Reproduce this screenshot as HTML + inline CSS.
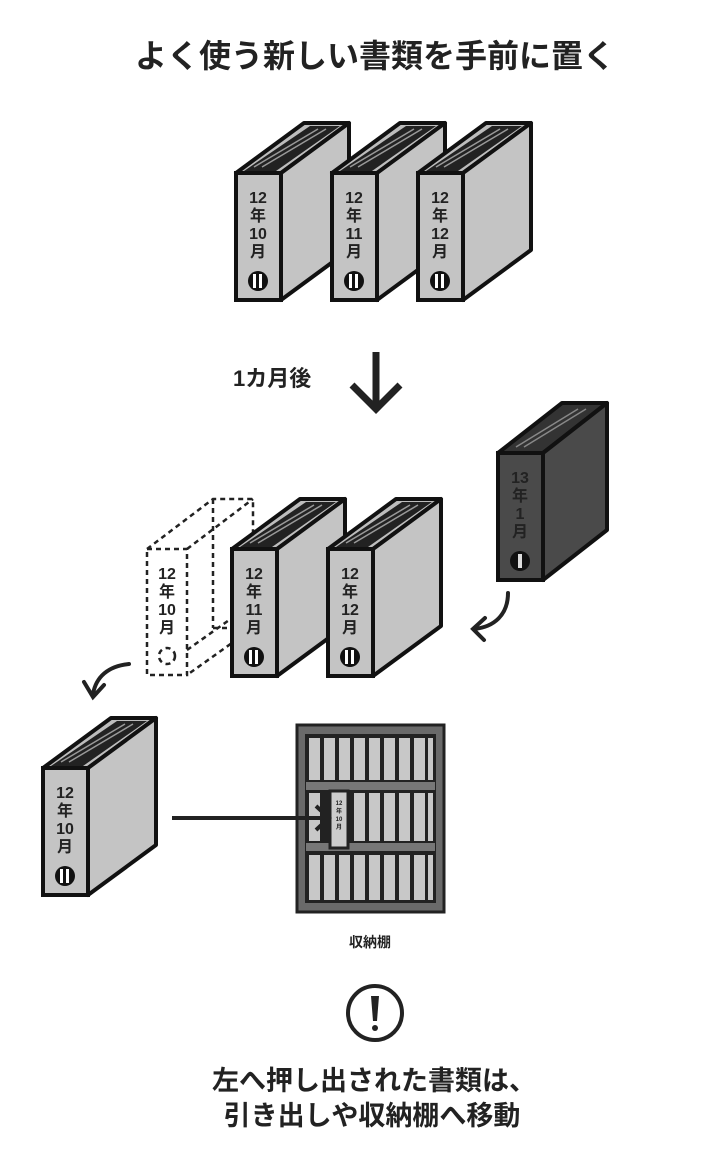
<!DOCTYPE html>
<html><head><meta charset="utf-8"><style>
body{margin:0;background:#fff}
svg{display:block}
text{font-family:"Liberation Sans","Noto Sans CJK JP",sans-serif;font-weight:bold}
</style></head><body>
<svg width="724" height="1162" viewBox="0 0 724 1162" xmlns="http://www.w3.org/2000/svg">
<defs>
<g id="bshape">
<polygon points="0,0 45,0 113,-50 68,-50" fill="#bdbdbd" stroke="#111" stroke-width="4" stroke-linejoin="round"/>
<polygon points="8,-2 40,-2 104,-47 74,-47" fill="#222"/>
<line x1="18" y1="-6" x2="82" y2="-44" stroke="#999" stroke-width="1.5"/>
<line x1="26" y1="-6" x2="90" y2="-44" stroke="#999" stroke-width="1.5"/>
<polygon points="45,0 113,-50 113,77 45,127" fill="#c4c4c4" stroke="#111" stroke-width="4" stroke-linejoin="round"/>
<rect x="0" y="0" width="45" height="127" fill="#c4c4c4" stroke="#111" stroke-width="4"/>
<circle cx="22" cy="108" r="10" fill="#111"/>
<rect x="17" y="101" width="3" height="14" fill="#fff"/>
<rect x="23" y="101" width="3" height="14" fill="#fff"/>
</g>
</defs>

<text x="375" y="67" font-size="32" text-anchor="middle" fill="#222">よく使う新しい書類を手前に置く</text>

<!-- top row -->
<g transform="translate(236,173)"><use href="#bshape"/>
<g font-size="16" text-anchor="middle" fill="#222"><text x="22" y="30">12</text><text x="22" y="48">年</text><text x="22" y="66">10</text><text x="22" y="84">月</text></g></g>
<g transform="translate(332,173)"><use href="#bshape"/>
<g font-size="16" text-anchor="middle" fill="#222"><text x="22" y="30">12</text><text x="22" y="48">年</text><text x="22" y="66">11</text><text x="22" y="84">月</text></g></g>
<g transform="translate(418,173)"><use href="#bshape"/>
<g font-size="16" text-anchor="middle" fill="#222"><text x="22" y="30">12</text><text x="22" y="48">年</text><text x="22" y="66">12</text><text x="22" y="84">月</text></g></g>

<text x="233" y="386" font-size="22" fill="#222">1カ月後</text>
<g stroke="#222" stroke-width="7" fill="none"><line x1="376" y1="352" x2="376" y2="408"/><polyline points="352,385 376,409 400,385"/></g>

<!-- dashed binder -->
<g stroke="#222" stroke-width="2.5" stroke-dasharray="5,4" fill="none">
<rect x="147" y="549" width="40" height="126"/>
<polyline points="147,549 213,499 253,499 253,628 187,675"/>
<line x1="187" y1="549" x2="253" y2="499"/>
<line x1="213" y1="499" x2="213" y2="628"/>
<line x1="213" y1="628" x2="232" y2="628"/>
<line x1="187" y1="650" x2="232" y2="618"/>
<circle cx="167" cy="656" r="8"/>
</g>
<g font-size="16" text-anchor="middle" fill="#222"><text x="167" y="579">12</text><text x="167" y="597">年</text><text x="167" y="615">10</text><text x="167" y="633">月</text></g>

<g transform="translate(232,549)"><use href="#bshape"/>
<g font-size="16" text-anchor="middle" fill="#222"><text x="22" y="30">12</text><text x="22" y="48">年</text><text x="22" y="66">11</text><text x="22" y="84">月</text></g></g>
<g transform="translate(328,549)"><use href="#bshape"/>
<g font-size="16" text-anchor="middle" fill="#222"><text x="22" y="30">12</text><text x="22" y="48">年</text><text x="22" y="66">12</text><text x="22" y="84">月</text></g></g>

<!-- dark binder -->
<g transform="translate(498,453)">
<polygon points="0,0 45,0 109,-50 64,-50" fill="#333" stroke="#111" stroke-width="4" stroke-linejoin="round"/>
<line x1="18" y1="-6" x2="80" y2="-44" stroke="#888" stroke-width="1.5"/>
<line x1="26" y1="-6" x2="88" y2="-44" stroke="#888" stroke-width="1.5"/>
<polygon points="45,0 109,-50 109,77 45,127" fill="#4a4a4a" stroke="#111" stroke-width="4" stroke-linejoin="round"/>
<rect x="0" y="0" width="45" height="127" fill="#4a4a4a" stroke="#111" stroke-width="4"/>
<g font-size="16" text-anchor="middle" fill="#222"><text x="22" y="30">13</text><text x="22" y="48">年</text><text x="22" y="66">1</text><text x="22" y="84">月</text></g>
<circle cx="22" cy="108" r="10" fill="#111"/><rect x="20" y="101" width="4" height="14" fill="#ddd"/>
</g>

<!-- curved arrows -->
<g stroke="#222" stroke-width="4" fill="none" stroke-linecap="round">
<path d="M508,593 C508,615 494,627 474,629"/><polyline points="485,618 473,629 484,640"/>
<path d="M129,664 C108,666 96,677 93,694"/><polyline points="84,682 93,697 104,685"/>
</g>

<!-- bottom binder -->
<g transform="translate(43,768)"><use href="#bshape"/>
<g font-size="16" text-anchor="middle" fill="#222"><text x="22" y="30">12</text><text x="22" y="48">年</text><text x="22" y="66">10</text><text x="22" y="84">月</text></g></g>

<!-- shelf -->
<rect x="297" y="725" width="147" height="187" fill="#6a6a6a" stroke="#222" stroke-width="3"/>
<rect x="305" y="734" width="131" height="169" fill="#222"/>
<g fill="#c8c8c8">
<rect x="309" y="738" width="11" height="42"/><rect x="324" y="738" width="11" height="42"/><rect x="339" y="738" width="11" height="42"/><rect x="354" y="738" width="11" height="42"/><rect x="369" y="738" width="11" height="42"/><rect x="384" y="738" width="11" height="42"/><rect x="399" y="738" width="11" height="42"/><rect x="414" y="738" width="11" height="42"/><rect x="428" y="738" width="5" height="42"/>
<rect x="309" y="793" width="11" height="48"/><rect x="354" y="793" width="11" height="48"/><rect x="369" y="793" width="11" height="48"/><rect x="384" y="793" width="11" height="48"/><rect x="399" y="793" width="11" height="48"/><rect x="414" y="793" width="11" height="48"/><rect x="428" y="793" width="5" height="48"/>
<rect x="309" y="855" width="11" height="45"/><rect x="324" y="855" width="11" height="45"/><rect x="339" y="855" width="11" height="45"/><rect x="354" y="855" width="11" height="45"/><rect x="369" y="855" width="11" height="45"/><rect x="384" y="855" width="11" height="45"/><rect x="399" y="855" width="11" height="45"/><rect x="414" y="855" width="11" height="45"/><rect x="428" y="855" width="5" height="45"/>
</g>
<rect x="306" y="782" width="129" height="8" fill="#777"/>
<rect x="306" y="843" width="129" height="8" fill="#777"/>
<rect x="330" y="791" width="18" height="57" fill="#ccc" stroke="#222" stroke-width="3"/>
<g font-size="6" text-anchor="middle" fill="#222"><text x="339" y="805">12</text><text x="339" y="813">年</text><text x="339" y="821">10</text><text x="339" y="829">月</text></g>
<g stroke="#222" stroke-width="4" fill="none"><line x1="172" y1="818" x2="328" y2="818"/><polyline points="316,806 329,818 316,830"/></g>
<text x="370" y="947" font-size="14" text-anchor="middle" fill="#222">収納棚</text>

<circle cx="375" cy="1013" r="27" fill="none" stroke="#222" stroke-width="4"/>
<path d="M371,996 L379,996 L377,1021 L373,1021 Z" fill="#222"/>
<circle cx="375" cy="1028" r="3" fill="#222"/>

<text x="374" y="1090" font-size="27" text-anchor="middle" fill="#222">左へ押し出された書類は、</text>
<text x="372" y="1125" font-size="27" text-anchor="middle" fill="#222">引き出しや収納棚へ移動</text>
</svg>
</body></html>
